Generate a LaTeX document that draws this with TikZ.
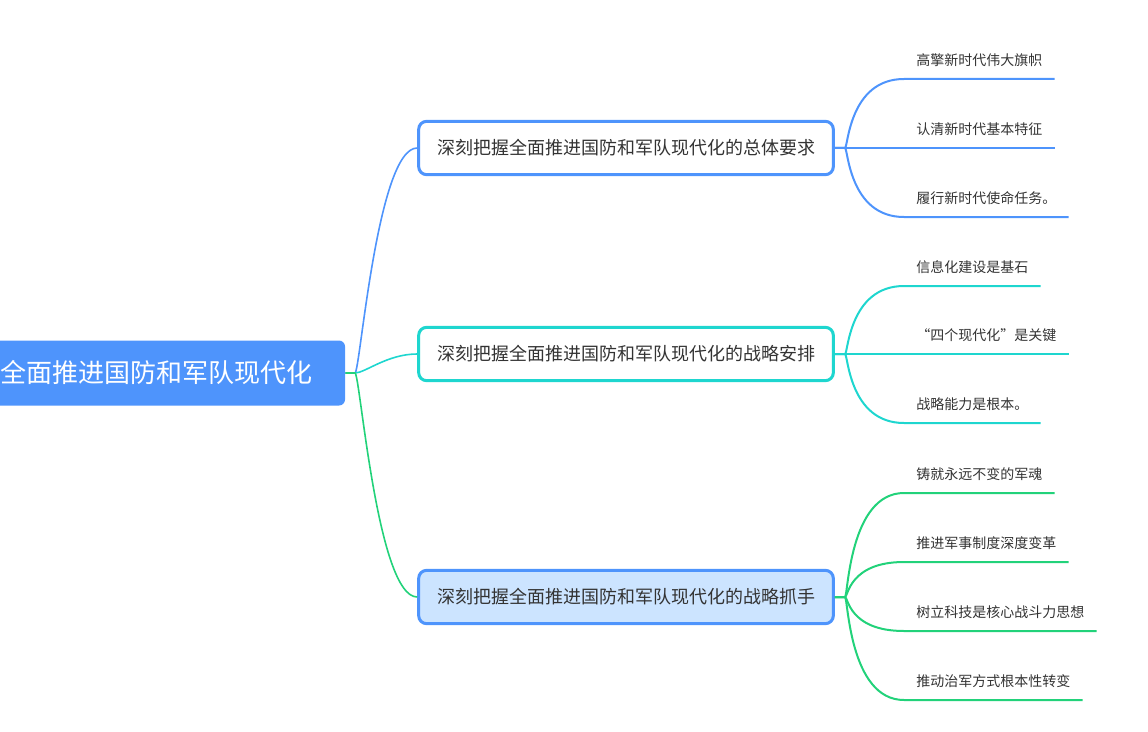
\documentclass[tikz,border=0pt]{standalone}
\usepackage{fontspec}
\setmainfont{Noto Sans CJK SC}
\definecolor{mblue}{HTML}{4E94FC}
\definecolor{mcyan}{HTML}{1ED6CF}
\definecolor{mgreen}{HTML}{22D27A}
\definecolor{mfill}{HTML}{CCE4FF}
\definecolor{mtext}{HTML}{333333}
\tikzset{
  rootbox/.style={rectangle, rounded corners=4.5pt, fill=mblue, text=white,
    minimum width=283.5pt, minimum height=48.75pt, inner sep=0pt,
    font=\fontsize{19.5}{22}\selectfont},
  branchbox/.style={rectangle, rounded corners=6pt, line width=2.25pt, fill=white,
    text=mtext, minimum width=311pt, minimum height=40pt, inner sep=0pt,
    font=\fontsize{13.5}{16}\selectfont},
  leaf/.style={anchor=south west, text=mtext, inner xsep=9pt, inner ysep=8pt,
    text height=8.5pt, text depth=2pt, font=\fontsize{10.5}{12}\selectfont},
  link/.style={line width=1.5pt},
}
\begin{document}
\begin{tikzpicture}[x=0.75pt,y=-0.75pt]
\useasboundingbox (0,0) rectangle (1148,731);

% centre and main topics
\node[rootbox] (root) at (156,373) {全面推进国防和军队现代化};
\node[branchbox, draw=mblue] (b1) at (626,148) {深刻把握全面推进国防和军队现代化的总体要求};
\node[branchbox, draw=mcyan] (b2) at (626,354) {深刻把握全面推进国防和军队现代化的战略安排};
\node[branchbox, draw=mblue, fill=mfill] (b3) at (626,597) {深刻把握全面推进国防和军队现代化的战略抓手};

\coordinate (f0) at (355,373);
\coordinate (f1) at (845,148);
\coordinate (f2) at (845,354);
\coordinate (f3) at (845,597);

\draw[link, line width=1.2pt, mblue] (root.east) -- (f0) .. controls +(5,0) and +(-40,0) .. (b1.west);
\draw[link, line width=1.2pt, mcyan] (f0) .. controls +(10,0) and +(-30,0) .. (b2.west);
\draw[link, line width=1.2pt, mgreen] (root.east) -- (f0) .. controls +(5,0) and +(-40,0) .. (b3.west);

% subtopics
\node[leaf] (l11) at (904,79) {高擎新时代伟大旗帜};
\node[leaf] (l12) at (904,148) {认清新时代基本特征};
\node[leaf] (l13) at (904,217) {履行新时代使命任务。};

\node[leaf] (l21) at (904,286) {信息化建设是基石};
\node[leaf] (l22) at (904,354) {“四个现代化”是关键};
\node[leaf] (l23) at (904,423) {战略能力是根本。};

\node[leaf] (l31) at (904,493) {铸就永远不变的军魂};
\node[leaf] (l32) at (904,562) {推进军事制度深度变革};
\node[leaf] (l33) at (904,631) {树立科技是核心战斗力思想};
\node[leaf] (l34) at (904,700) {推动治军方式根本性转变};

\foreach \i in {1,2,3} {
  \draw[link, mblue] (b1.east) -- (f1) .. controls +(3,0) and +(-55,0) .. (l1\i.south west) -- (l1\i.south east);
}
\foreach \i in {1,2,3} {
  \draw[link, mcyan] (b2.east) -- (f2) .. controls +(3,0) and +(-55,0) .. (l2\i.south west) -- (l2\i.south east);
}
\foreach \i in {1,2,3,4} {
  \draw[link, mgreen] (b3.east) -- (f3) .. controls +(3,0) and +(-55,0) .. (l3\i.south west) -- (l3\i.south east);
}

\end{tikzpicture}
\end{document}
